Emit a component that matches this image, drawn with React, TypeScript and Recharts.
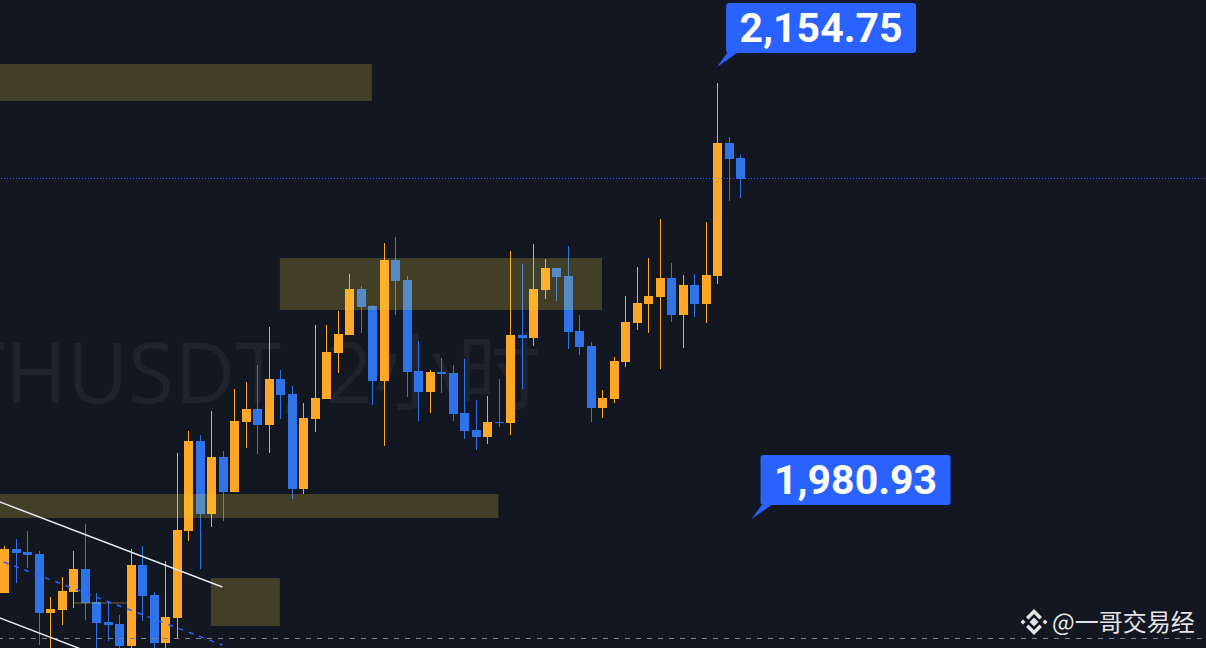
import React from 'react';
import { ComposedChart, Bar, XAxis, YAxis, ReferenceArea, ReferenceLine, ReferenceDot } from 'recharts';

// ETHUSDT 2h candles (price values)
const opens = [
  1952.48, 1969.40, 1968.24, 1967.47, 1944.79, 1945.94, 1952.86, 1961.71, 1949.02, 1941.32,
  1940.56, 1932.09, 1963.24, 1951.71, 1933.25, 1942.86, 1976.32, 2010.93, 1982.86, 2004.78,
  1991.32, 2018.24, 2023.24, 2017.08, 2034.77, 2029.00, 1992.47, 2019.39, 2027.08, 2044.77,
  2051.69, 2069.38, 2062.85, 2034.00, 2080.53, 2072.84, 2037.85, 2029.77, 2037.46, 2037.08,
  2021.70, 2015.16, 2012.47, 2018.24, 2017.85, 2051.69, 2050.54, 2069.00, 2077.46, 2074.38,
  2053.23, 2047.46, 2023.62, 2027.08, 2041.31, 2056.31, 2063.61, 2066.31, 2073.61, 2059.38,
  2070.92, 2063.61, 2074.38, 2125.53, 2119.76,
];
const highs = [
  1970.55, 1973.24, 1976.32, 1968.63, 1950.94, 1958.63, 1968.63, 1979.01, 1952.48, 1949.02,
  1944.02, 1969.40, 1970.55, 1952.86, 1964.78, 2006.31, 2014.78, 2013.24, 2022.47, 2007.08,
  2030.93, 2033.62, 2040.16, 2054.77, 2038.23, 2032.08, 2025.54, 2055.54, 2055.54, 2060.92,
  2075.15, 2070.54, 2063.23, 2087.07, 2089.38, 2074.38, 2049.39, 2038.23, 2042.85, 2040.16,
  2042.46, 2026.70, 2028.23, 2034.77, 2084.00, 2079.00, 2086.69, 2080.92, 2077.46, 2085.92,
  2059.38, 2049.00, 2030.54, 2043.23, 2066.69, 2077.84, 2081.30, 2096.30, 2079.38, 2074.77,
  2075.15, 2095.15, 2148.60, 2127.84, 2120.91,
];
const lows = [
  1952.48, 1956.32, 1962.09, 1932.48, 1929.79, 1940.17, 1946.71, 1942.09, 1929.79, 1934.02,
  1929.79, 1929.79, 1941.71, 1929.79, 1929.79, 1935.17, 1972.47, 1961.71, 1977.86, 1980.16,
  1991.32, 2008.24, 2005.93, 2006.31, 2019.39, 1988.62, 1990.55, 2014.39, 2027.08, 2037.08,
  2051.69, 2052.46, 2024.77, 2009.01, 2059.38, 2027.85, 2018.62, 2021.70, 2029.39, 2018.62,
  2011.70, 2007.47, 2009.78, 2016.31, 2013.24, 2030.93, 2047.46, 2065.54, 2064.77, 2046.31,
  2044.00, 2018.24, 2019.77, 2025.54, 2039.39, 2053.62, 2052.46, 2038.62, 2056.69, 2046.69,
  2058.61, 2056.31, 2071.31, 2103.22, 2104.38,
];
const closes = [
  1969.40, 1967.86, 1967.09, 1944.79, 1946.32, 1953.25, 1961.71, 1948.63, 1940.94, 1940.17,
  1932.09, 1963.24, 1951.32, 1933.25, 1943.25, 1976.70, 2010.93, 1982.86, 2004.78, 1991.32,
  2018.62, 2023.24, 2017.08, 2034.77, 2028.62, 1992.47, 2019.77, 2027.47, 2045.16, 2052.08,
  2069.38, 2062.46, 2034.00, 2080.53, 2072.46, 2037.46, 2029.77, 2037.46, 2036.70, 2021.31,
  2014.78, 2012.47, 2018.24, 2017.85, 2051.69, 2050.54, 2069.38, 2077.46, 2074.00, 2052.85,
  2047.08, 2023.62, 2027.47, 2041.69, 2056.69, 2064.00, 2066.69, 2073.61, 2059.38, 2070.92,
  2063.61, 2074.77, 2125.53, 2119.38, 2111.68,
];
const emptySlotsRight = 40; // empty bar slots to the right of the last candle

// drawings: price zones (bar index, price)
const zoneX1 = [-0.5, 24, -0.5, 18, 6];
const zoneX2 = [32, 52, 43, 24, 11];
const zoneTop = [2155.91, 2081.30, 1990.55, 1958.24, 1949.02];
const zoneBottom = [2141.68, 2061.31, 1981.32, 1939.79, 1948.24];

const upperTrend = [{ x: -0.5, y: 1987.77 }, { x: 19, y: 1954.78 }];
const lowerTrend = [{ x: -0.5, y: 1943.17 }, { x: 8, y: 1928.75 }];
const dashedTrend = [{ x: 0, y: 1964.40 }, { x: 19, y: 1932.48 }];

const lastPrice = 2111.9;
const lowLevel = 1934.98;
const highLabel = { x: 62, price: 2154.75, text: '2,154.75' };
const lowLabel = { x: 65, price: 1980.93, text: '1,980.93' };

const yMin = 1931.33;
const yMax = 2180.52;

const ORANGE = '#FFA726';
const BLUE = '#2F73E8';
const BG = '#131722';

const CHART_W = 1206;
const MARGIN_LEFT = -2;
const totalSlots = opens.length + emptySlotsRight;
const halfBand = (CHART_W - MARGIN_LEFT) / totalSlots / 2;

const data = Array.from({ length: totalSlots }, (_, i) =>
  i < opens.length
    ? { i, open: opens[i], high: highs[i], low: lows[i], close: closes[i], range: [lows[i], highs[i]] }
    : { i, open: null, high: null, low: null, close: null, range: null }
);

const Candle = (props: any) => {
  const { x, y, width, height, payload } = props;
  if (!payload || payload.open == null || y == null || height == null || isNaN(y)) return <g />;
  const { open, close, high, low } = payload;
  const top = Math.min(y, y + height);
  const bot = Math.max(y, y + height);
  const toY = (v: number) => (high === low ? top : top + ((high - v) / (high - low)) * (bot - top));
  const up = close >= open;
  const color = up ? ORANGE : BLUE;
  const cx = x + width / 2;
  const bx = Math.round(cx - 4);
  const bodyTop = toY(Math.max(open, close));
  const bodyBot = toY(Math.min(open, close));
  return (
    <g shapeRendering="crispEdges">
      <rect x={bx + 4} y={top} width={1} height={bot - top} fill={color} />
      <rect x={bx} y={bodyTop} width={9} height={Math.max(1.5, bodyBot - bodyTop)} fill={color} />
    </g>
  );
};

const Callout = (props: any) => {
  const { cx, cy, text } = props;
  if (cx == null || cy == null) return <g />;
  const bx = cx + 9;
  const by = cy - 64;
  return (
    <g>
      <polygon points={`${cx},${cy} ${bx + 1},${cy - 14} ${bx + 11},${cy - 14}`} fill="#2962FF" />
      <rect x={bx} y={by} width={190} height={50} rx={3} fill="#2962FF" />
      <text
        x={bx + 95}
        y={by + 39}
        textAnchor="middle"
        fill="#FFFFFF"
        fontFamily="Roboto, 'Noto Sans', sans-serif"
        fontWeight={700}
        fontSize={41}
      >
        {text}
      </text>
    </g>
  );
};

export default function App() {
  return (
    <div
      style={{
        position: 'fixed',
        left: 0,
        top: 0,
        width: CHART_W,
        height: 648,
        background: BG,
        overflow: 'hidden',
      }}
    >
      <svg width={CHART_W} height={648} style={{ position: 'absolute', left: 0, top: 0 }}>
        <text
          x={-88}
          y={403}
          fill="#1f232e"
          fontFamily="'Open Sans', 'Noto Sans CJK SC', sans-serif"
          fontSize={84}
        >
          ETHUSDT, 2小时
        </text>
      </svg>
      <div style={{ position: 'absolute', left: 0, top: 0 }}>
        <ComposedChart
          width={CHART_W}
          height={648}
          data={data}
          margin={{ top: 0, right: 0, bottom: 0, left: MARGIN_LEFT }}
          barCategoryGap={0}
        >
          <XAxis dataKey="i" type="category" hide />
          <XAxis
            xAxisId="num"
            dataKey="i"
            type="number"
            domain={[0, totalSlots - 1]}
            padding={{ left: halfBand, right: halfBand }}
            allowDataOverflow
            hide
          />
          <YAxis type="number" domain={[yMin, yMax]} allowDataOverflow hide />
          <ReferenceLine y={lowLevel} stroke="#7d818d" strokeWidth={1} strokeDasharray="5 6" ifOverflow="visible" />
          <ReferenceLine y={lastPrice} stroke="#2962FF" strokeWidth={1} strokeDasharray="1 2" ifOverflow="visible" />
          <Bar dataKey="range" shape={<Candle />} isAnimationActive={false} />
          {zoneX1.map((x1, k) => (
            <ReferenceArea
              key={`z${k}`}
              xAxisId="num"
              x1={x1}
              x2={zoneX2[k]}
              y1={zoneBottom[k]}
              y2={zoneTop[k]}
              fill="rgb(250,225,60)"
              fillOpacity={0.2}
              strokeWidth={0}
              ifOverflow="hidden"
              zIndex={350}
            />
          ))}
          <ReferenceLine
            xAxisId="num"
            segment={upperTrend}
            stroke="#e6e8ef"
            strokeWidth={1.5}
            ifOverflow="hidden"
            zIndex={400}
          />
          <ReferenceLine
            xAxisId="num"
            segment={lowerTrend}
            stroke="#e6e8ef"
            strokeWidth={1.5}
            ifOverflow="hidden"
            zIndex={400}
          />
          <ReferenceLine
            xAxisId="num"
            segment={dashedTrend}
            stroke="#2962FF"
            strokeWidth={1.5}
            strokeDasharray="5 6"
            ifOverflow="hidden"
            zIndex={400}
          />
          <ReferenceDot
            xAxisId="num"
            x={highLabel.x}
            y={highLabel.price}
            r={0}
            ifOverflow="visible"
            shape={(p: any) => <Callout {...p} text={highLabel.text} />}
            zIndex={2000}
          />
          <ReferenceDot
            xAxisId="num"
            x={lowLabel.x}
            y={lowLabel.price}
            r={0}
            ifOverflow="visible"
            shape={(p: any) => <Callout {...p} text={lowLabel.text} />}
            zIndex={2000}
          />
        </ComposedChart>
      </div>
      <svg width={CHART_W} height={648} style={{ position: 'absolute', left: 0, top: 0, pointerEvents: 'none' }}>
        <g fill="#e4e4e4">
          <polygon points="1034,617.5 1038.5,622 1034,626.5 1029.5,622" />
          <polygon points="1023,619.5 1025.5,622 1023,624.5 1020.5,622" />
          <polygon points="1045,619.5 1047.5,622 1045,624.5 1042.5,622" />
          <polygon points="1034,609 1042,617 1039.5,619.5 1034,614 1028.5,619.5 1026,617" />
          <polygon points="1034,635 1042,627 1039.5,624.5 1034,630 1028.5,624.5 1026,627" />
        </g>
        <text
          x={1052}
          y={631}
          fill="#e4e4e4"
          fontFamily="'Noto Sans CJK SC', 'Noto Sans', sans-serif"
          fontSize={24}
        >
          @一哥交易经
        </text>
      </svg>
    </div>
  );
}
